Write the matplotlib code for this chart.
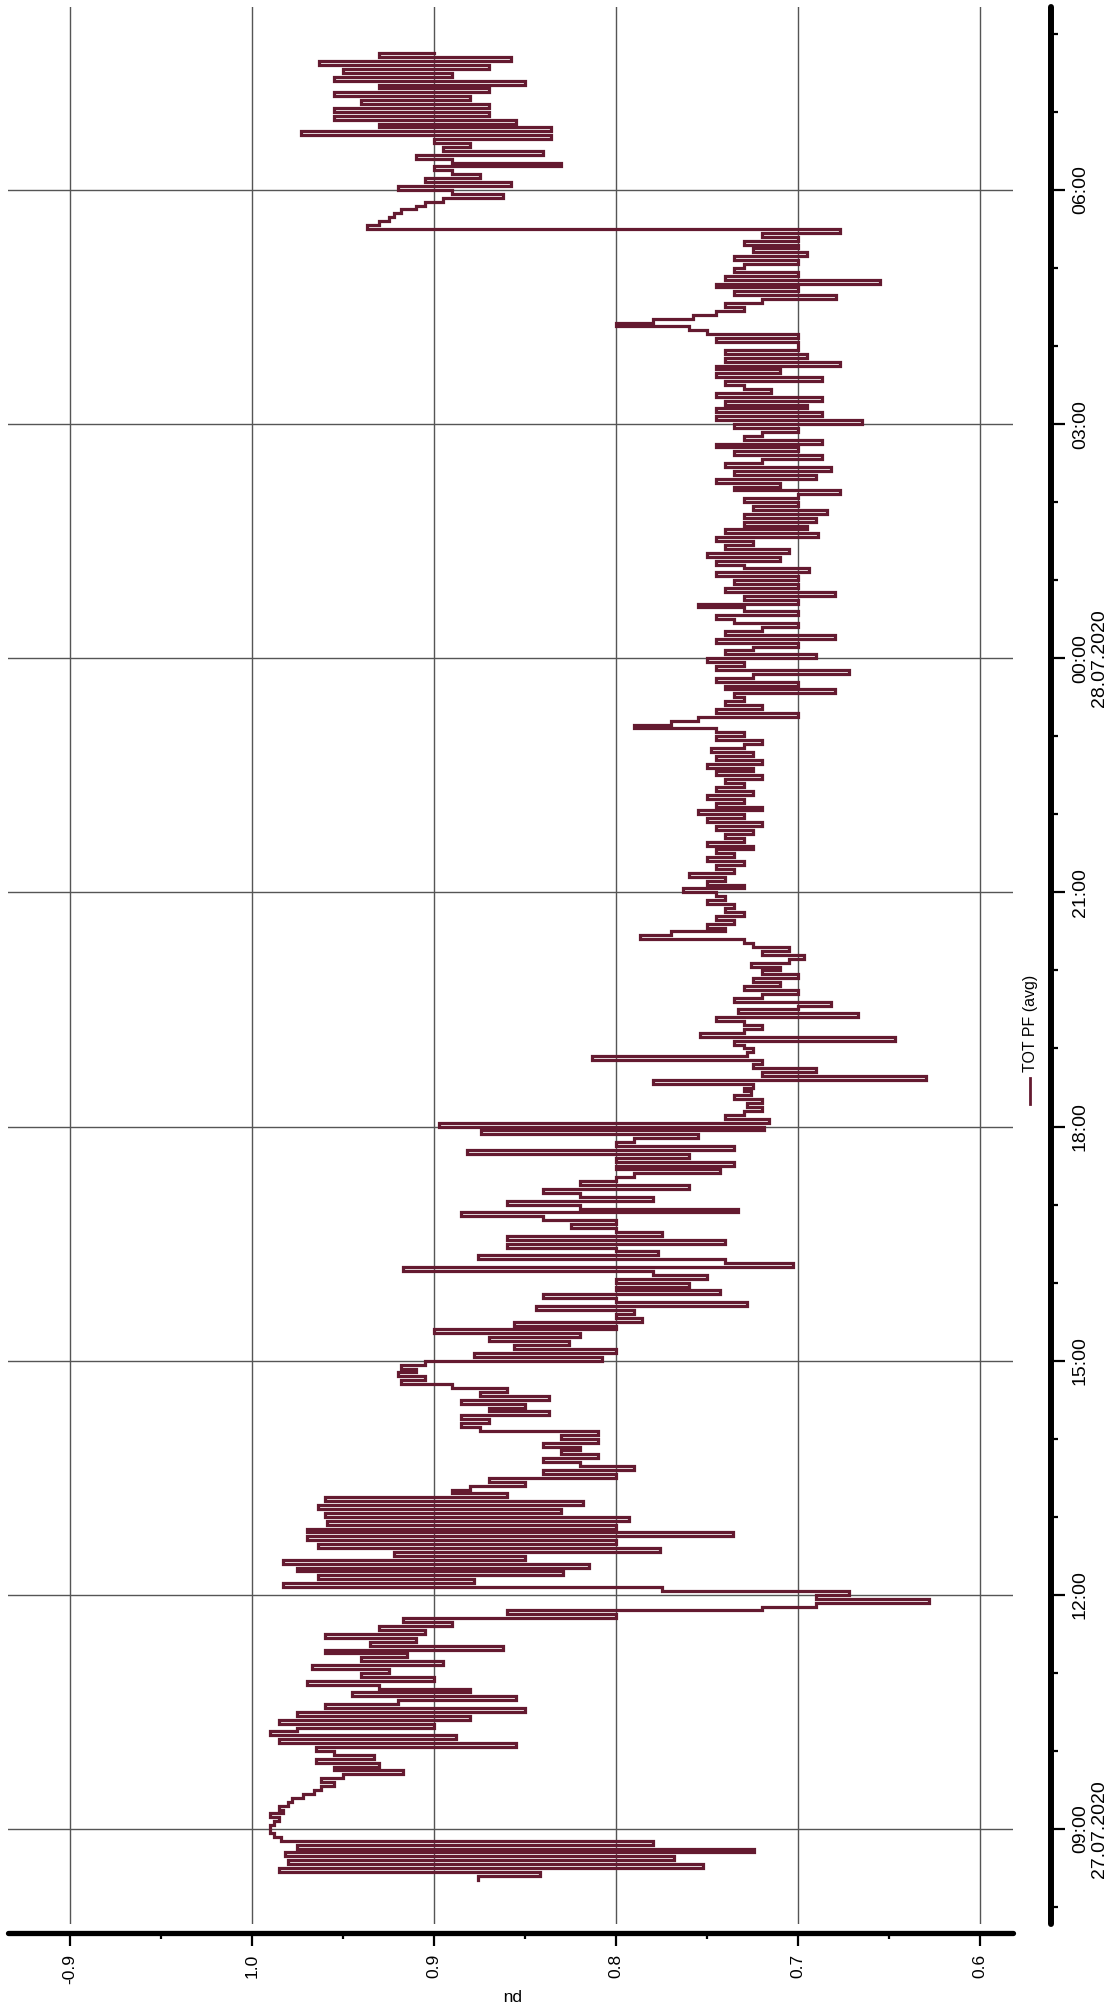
import numpy as np
import pandas as pd
import matplotlib
matplotlib.use("Agg")
import matplotlib.pyplot as plt
from matplotlib.lines import Line2D

# TOT PF (avg), 3-minute averages, one list per hour (first list starts 08:21)
pf_08 = [0.876, 0.842, 0.985, 0.752, 0.980, 0.768, 0.982, 0.724, 0.975, 0.780, 0.984, 0.988, 0.990]
pf_09 = [0.990, 0.988, 0.985, 0.990, 0.983, 0.985, 0.980, 0.978, 0.972, 0.966, 0.962, 0.955, 0.962, 0.950, 0.917, 0.955, 0.930, 0.965, 0.933, 0.955]
pf_10 = [0.965, 0.855, 0.985, 0.888, 0.990, 0.975, 0.900, 0.985, 0.880, 0.975, 0.850, 0.960, 0.920, 0.855, 0.945, 0.880, 0.930, 0.970, 0.900, 0.940]
pf_11 = [0.925, 0.967, 0.895, 0.940, 0.915, 0.960, 0.862, 0.935, 0.910, 0.960, 0.905, 0.930, 0.890, 0.917, 0.800, 0.860, 0.720, 0.690, 0.628, 0.690]
pf_12 = [0.672, 0.775, 0.983, 0.878, 0.964, 0.829, 0.975, 0.815, 0.983, 0.850, 0.922, 0.776, 0.964, 0.800, 0.970, 0.736, 0.970, 0.800, 0.959, 0.793]
pf_13 = [0.960, 0.830, 0.964, 0.818, 0.960, 0.860, 0.890, 0.880, 0.850, 0.870, 0.800, 0.840, 0.790, 0.820, 0.840, 0.810, 0.830, 0.820, 0.840, 0.810]
pf_14 = [0.830, 0.810, 0.875, 0.885, 0.870, 0.885, 0.837, 0.870, 0.850, 0.885, 0.837, 0.875, 0.860, 0.890, 0.918, 0.905, 0.920, 0.910, 0.918, 0.905]
pf_15 = [0.808, 0.878, 0.800, 0.856, 0.826, 0.870, 0.820, 0.900, 0.800, 0.856, 0.786, 0.800, 0.790, 0.844, 0.728, 0.800, 0.840, 0.743, 0.800, 0.760]
pf_16 = [0.800, 0.750, 0.780, 0.917, 0.703, 0.740, 0.876, 0.777, 0.800, 0.860, 0.740, 0.860, 0.775, 0.800, 0.825, 0.800, 0.840, 0.885, 0.733, 0.820]
pf_17 = [0.860, 0.780, 0.820, 0.840, 0.760, 0.820, 0.800, 0.790, 0.743, 0.800, 0.735, 0.800, 0.760, 0.882, 0.735, 0.800, 0.790, 0.755, 0.874, 0.719]
pf_18 = [0.897, 0.716, 0.740, 0.730, 0.720, 0.728, 0.720, 0.735, 0.726, 0.730, 0.725, 0.780, 0.630, 0.720, 0.690, 0.725, 0.720, 0.813, 0.728, 0.725]
pf_19 = [0.730, 0.735, 0.647, 0.754, 0.730, 0.720, 0.730, 0.745, 0.667, 0.733, 0.700, 0.682, 0.735, 0.720, 0.700, 0.730, 0.710, 0.725, 0.700, 0.720]
pf_20 = [0.710, 0.726, 0.705, 0.697, 0.720, 0.705, 0.725, 0.730, 0.787, 0.770, 0.740, 0.750, 0.735, 0.745, 0.730, 0.740, 0.735, 0.750, 0.740, 0.745]
pf_21 = [0.763, 0.730, 0.750, 0.740, 0.760, 0.735, 0.745, 0.730, 0.750, 0.735, 0.745, 0.725, 0.750, 0.730, 0.740, 0.725, 0.745, 0.720, 0.750, 0.730]
pf_22 = [0.755, 0.720, 0.745, 0.730, 0.750, 0.725, 0.745, 0.730, 0.740, 0.720, 0.745, 0.725, 0.750, 0.720, 0.745, 0.725, 0.748, 0.730, 0.720, 0.745]
pf_23 = [0.730, 0.745, 0.790, 0.770, 0.755, 0.700, 0.745, 0.720, 0.740, 0.730, 0.735, 0.680, 0.740, 0.700, 0.745, 0.725, 0.672, 0.745, 0.730, 0.750]
pf_00 = [0.690, 0.740, 0.725, 0.700, 0.745, 0.680, 0.740, 0.720, 0.700, 0.735, 0.745, 0.700, 0.730, 0.755, 0.700, 0.730, 0.680, 0.740, 0.700, 0.735]
pf_01 = [0.700, 0.745, 0.694, 0.730, 0.745, 0.710, 0.750, 0.705, 0.740, 0.725, 0.745, 0.689, 0.740, 0.695, 0.730, 0.690, 0.730, 0.684, 0.725, 0.700]
pf_02 = [0.730, 0.700, 0.677, 0.735, 0.710, 0.745, 0.690, 0.735, 0.682, 0.740, 0.720, 0.687, 0.735, 0.700, 0.745, 0.687, 0.730, 0.720, 0.700, 0.735]
pf_03 = [0.665, 0.745, 0.687, 0.745, 0.695, 0.740, 0.687, 0.745, 0.715, 0.730, 0.740, 0.687, 0.745, 0.710, 0.745, 0.677, 0.740, 0.695, 0.740, 0.700]
pf_04 = [0.700, 0.745, 0.700, 0.750, 0.760, 0.800, 0.780, 0.758, 0.745, 0.730, 0.740, 0.720, 0.679, 0.735, 0.700, 0.745, 0.655, 0.740, 0.700, 0.735]
pf_05 = [0.730, 0.700, 0.735, 0.695, 0.725, 0.700, 0.730, 0.700, 0.720, 0.677, 0.937, 0.930, 0.925, 0.922, 0.918, 0.910, 0.905, 0.895, 0.862, 0.890]
pf_06 = [0.920, 0.858, 0.905, 0.875, 0.890, 0.900, 0.830, 0.890, 0.910, 0.840, 0.895, 0.880, 0.900, 0.836, 0.973, 0.836, 0.930, 0.855, 0.955, 0.870]
pf_07 = [0.955, 0.870, 0.940, 0.880, 0.955, 0.870, 0.930, 0.850, 0.955, 0.890, 0.950, 0.870, 0.963, 0.858, 0.930, 0.900]

pf = np.concatenate([pf_08, pf_09, pf_10, pf_11, pf_12, pf_13, pf_14, pf_15,
                     pf_16, pf_17, pf_18, pf_19, pf_20, pf_21, pf_22, pf_23,
                     pf_00, pf_01, pf_02, pf_03, pf_04, pf_05, pf_06, pf_07])
times = pd.date_range("2020-07-27 08:21", periods=len(pf), freq="3min").to_pydatetime()

# pu scale: values above 1.0 continue as capacitive (-0.9)
pu_ticks = [1.1, 1.0, 0.9, 0.8, 0.7, 0.6]
pu_labels = ["-0.9", "1.0", "0.9", "0.8", "0.7", "0.6"]
pu_minor = [1.05, 0.95, 0.85, 0.75, 0.65]

hour_ticks = pd.date_range("2020-07-27 09:00", "2020-07-28 06:00", freq="3h").to_pydatetime()
hour_minor = pd.date_range("2020-07-27 08:00", "2020-07-28 08:00", freq="1h").to_pydatetime()
hour_labels = []
for i, d in enumerate(hour_ticks):
    s = d.strftime("%H:%M")
    if i == 0 or d.hour == 0:
        s += "\n" + d.strftime("%d.%m.%Y")
    hour_labels.append(s)

narrow = ["Liberation Sans Narrow", "Liberation Sans", "DejaVu Sans"]
plt.rcParams["font.family"] = ["Liberation Sans", "DejaVu Sans"]

fig = plt.figure(figsize=(11.12, 20.09), dpi=100)
ax = fig.add_axes([8 / 1112, 1 - 1924 / 2009, 1005 / 1112, 1917 / 2009])

# logger values are held until the next sample
line_color = "#641a30"
ax.plot(pf, times, drawstyle="steps-pre", color=line_color, lw=2.3,
        solid_joinstyle="miter", zorder=3)

ax.set_xlim(1.134, 0.582)
ax.set_ylim(pd.Timestamp("2020-07-27 07:47").to_pydatetime(),
            pd.Timestamp("2020-07-28 08:20:36").to_pydatetime())

for s in ["top", "left"]:
    ax.spines[s].set_visible(False)
ax.spines["bottom"].set_position(("outward", 6.5))
ax.spines["bottom"].set_linewidth(3.8)
ax.spines["bottom"].set_capstyle("round")
ax.spines["right"].set_position(("outward", 27.4))
ax.spines["right"].set_linewidth(4.3)
ax.spines["right"].set_capstyle("round")

ax.yaxis.tick_right()
ax.set_xticks(pu_ticks, pu_labels, rotation=90, ha="center", va="top", fontsize=12.5)
ax.set_xticks(pu_minor, minor=True)
ax.set_yticks(hour_ticks, hour_labels, rotation=90, ha="left", va="center",
              multialignment="center", fontsize=14, family=narrow, linespacing=1.15)
ax.set_yticks(hour_minor, minor=True)

ax.tick_params(axis="x", which="major", length=9, width=1.6, pad=6)
ax.tick_params(axis="x", which="minor", length=4, width=1.6)
ax.tick_params(axis="y", which="major", length=10, width=1.6, pad=5)
ax.tick_params(axis="y", which="minor", length=5, width=1.6)

ax.set_xlabel("pu", rotation=180, fontsize=12.5, labelpad=3)

ax.grid(True, which="major", color="#555555", lw=1.0)
ax.set_axisbelow(True)

# legend entry, drawn upright along the right margin
fig.text(1030 / 1112, 1 - 1072 / 2009, "TOT PF (avg)", rotation=90, ha="center",
         va="bottom", fontsize=11.5, family=narrow)
fig.add_artist(Line2D([1030 / 1112, 1030 / 1112], [1 - 1104 / 2009, 1 - 1078 / 2009],
                      transform=fig.transFigure, color=line_color, lw=2.0))

fig.savefig("out.png", dpi=100)
